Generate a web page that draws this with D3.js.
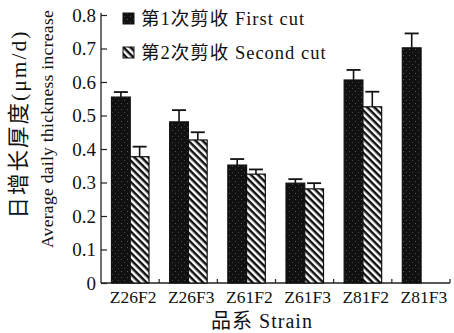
<!DOCTYPE html>
<html><head><meta charset="utf-8">
<script src="https://cdn.jsdelivr.net/npm/d3@7"></script>
<style>body{margin:0;background:#fff}svg{display:block}</style>
</head><body>
<script>
const categories = ["Z26F2","Z26F3","Z61F2","Z61F3","Z81F2","Z81F3"];
const firstCut = [0.555, 0.481, 0.352, 0.298, 0.606, 0.702];
const firstErr = [0.015, 0.035, 0.018, 0.012, 0.030, 0.043];
const secondCut = [0.377, 0.427, 0.325, 0.281, 0.526, null];
const secondErr = [0.030, 0.023, 0.014, 0.017, 0.045, null];
const yTicks = [0, 0.1, 0.2, 0.3, 0.4, 0.5, 0.6, 0.7, 0.8];
const yTickLabels = ["0","0.1","0.2","0.3","0.4","0.5","0.6","0.7","0.8"];
const legendLabels = ["第1次剪收 First cut", "第2次剪收 Second cut"];

const W = 454, H = 333;
const serif = "Liberation Serif, Tinos, DejaVu Serif, Noto Sans CJK SC, serif";
const svg = d3.select("body").append("svg").attr("width", W).attr("height", H);

const defs = svg.append("defs");
const dots = defs.append("pattern").attr("id","dots").attr("patternUnits","userSpaceOnUse")
  .attr("width",6).attr("height",6);
dots.append("rect").attr("width",6).attr("height",6).attr("fill","#111");
dots.append("rect").attr("x",1).attr("y",1).attr("width",1).attr("height",1).attr("fill","#555");
dots.append("rect").attr("x",4).attr("y",4).attr("width",1).attr("height",1).attr("fill","#444");
const hatch = defs.append("pattern").attr("id","hatch").attr("patternUnits","userSpaceOnUse")
  .attr("width",5).attr("height",5).attr("patternTransform","rotate(45)");
hatch.append("rect").attr("width",5).attr("height",5).attr("fill","#fff");
hatch.append("rect").attr("width",5).attr("height",2.5).attr("fill","#111");

const x0 = 101, x1 = 450, yBase = 283, yTop = 15;
const x = d3.scaleBand().domain(categories).range([x0, x1]).padding(0);
const y = d3.scaleLinear().domain([0, 0.8]).range([yBase, yTop]);
const inner = d3.scaleBand().domain(["a","b"]).range([10.5, 10.5 + 37.5]).padding(0);

// Y axis
const yAxis = d3.axisLeft(y).tickValues(yTicks).tickSize(-6).tickPadding(6)
  .tickFormat((d,i) => yTickLabels[i]);
const gy = svg.append("g").attr("transform", `translate(${x0},0)`).call(yAxis);
gy.select(".domain").attr("d", `M0,${yBase}V13`).attr("stroke","#222").attr("stroke-width",1.3);
gy.selectAll(".tick line").attr("stroke","#222").attr("stroke-width",1.2);
gy.selectAll(".tick text").attr("font-family", serif).attr("font-size", 19).attr("fill","#111").attr("x",-5);

// X axis
const gx = svg.append("g").attr("transform", `translate(0,${yBase})`);
gx.append("line").attr("x1", x0).attr("x2", x1).attr("stroke","#222").attr("stroke-width",1.3);
gx.selectAll("line.tk").data(categories).join("line").attr("class","tk")
  .attr("x1", d => x(d) + x.bandwidth()).attr("x2", d => x(d) + x.bandwidth())
  .attr("y1", 0).attr("y2", -4).attr("stroke","#222").attr("stroke-width",1.2);
gx.selectAll("text").data(categories).join("text")
  .attr("x", d => x(d) + x.bandwidth()/2 + 3).attr("y", 20)
  .attr("text-anchor","middle").attr("font-family", serif).attr("font-size", 17.5)
  .attr("fill","#111").text(d => d);

// Bars
const rows = categories.map((c,i) => ({c, v1:firstCut[i], e1:firstErr[i], v2:secondCut[i], e2:secondErr[i]}));
const g = svg.append("g");
rows.forEach(r => {
  const series = [{k:"a", v:r.v1, e:r.e1, fill:"url(#dots)"}, {k:"b", v:r.v2, e:r.e2, fill:"url(#hatch)"}];
  series.forEach(s => {
    if (s.v == null) return;
    const bx = x(r.c) + inner(s.k), bw = inner.bandwidth();
    const cx = bx + bw/2;
    g.append("line").attr("x1", cx).attr("x2", cx).attr("y1", y(s.v)).attr("y2", y(s.v + s.e))
      .attr("stroke","#111").attr("stroke-width",1.6);
    g.append("line").attr("x1", cx - 7).attr("x2", cx + 7).attr("y1", y(s.v + s.e)).attr("y2", y(s.v + s.e))
      .attr("stroke","#111").attr("stroke-width",1.8);
    g.append("rect").attr("x", bx).attr("y", y(s.v)).attr("width", bw).attr("height", yBase - y(s.v))
      .attr("fill", s.fill).attr("stroke","#111").attr("stroke-width",1.2);
  });
});

// Legend
const leg = svg.append("g");
const legFills = ["url(#dots)", "url(#hatch)"];
legendLabels.forEach((t,i) => {
  const ly = 13 + i*34;
  leg.append("rect").attr("x",123).attr("y",ly).attr("width",11).attr("height",11)
    .attr("fill", legFills[i]).attr("stroke","#111").attr("stroke-width",1);
  leg.append("text").attr("x",141).attr("y",ly + 11.5).attr("font-family", serif)
    .attr("font-size",18.5).attr("letter-spacing",1).attr("fill","#111").text(t);
});

// Axis titles
svg.append("text").attr("x", 262).attr("y", 328).attr("text-anchor","middle")
  .attr("font-family", serif).attr("font-size", 20).attr("letter-spacing",1).attr("fill","#111").text("品系 Strain");
svg.append("text").attr("transform","translate(26,124) rotate(-90)").attr("text-anchor","middle")
  .attr("font-family", serif).attr("font-size", 21.5).attr("letter-spacing",2).attr("fill","#111").text("日增长厚度(μm/d)");
svg.append("text").attr("transform","translate(53,129) rotate(-90)").attr("text-anchor","middle")
  .attr("font-family", serif).attr("font-size", 17.5).attr("letter-spacing",0.3).attr("fill","#111").text("Average daily thickness increase");
</script>
</body></html>
